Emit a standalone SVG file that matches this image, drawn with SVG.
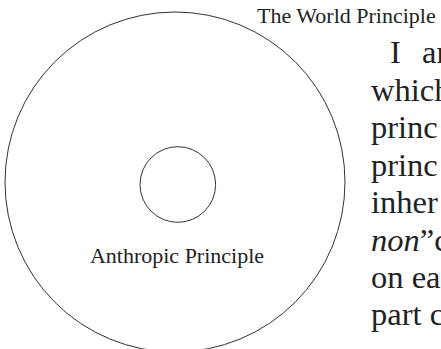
<svg xmlns="http://www.w3.org/2000/svg" width="441" height="349" viewBox="0 0 441 349">
<style>
.ring{fill:none;stroke:#333;stroke-width:1}
.lbl{font-family:"Liberation Serif","Times New Roman",serif;font-size:22px;fill:#222}
.body{font-family:"Liberation Serif","Times New Roman",serif;font-size:32.5px;fill:#222}
</style>
<rect width="441" height="349" fill="#fff"/>
<g id="world-principle">
<circle class="ring" cx="175" cy="182" r="170"/>
<text class="lbl" x="257" y="22.5">The World Principle</text>
</g>
<g id="anthropic-principle">
<circle class="ring" cx="177.8" cy="184.5" r="37.8"/>
<text class="lbl" x="177" y="262.5" text-anchor="middle">Anthropic Principle</text>
</g>
<g id="connectors"/>
<g id="paragraph" class="body">
<text><tspan x="390" y="63">I</tspan><tspan x="422" y="63">ar</tspan></text>
<text x="371" y="100.5">which</text>
<text x="371" y="138">princ</text>
<text x="371" y="175.5">princ</text>
<text x="371" y="213">inher</text>
<text x="371" y="250.5"><tspan font-style="italic">non</tspan>”c</text>
<text x="371" y="288">on ea</text>
<text x="371" y="325">part c</text>
</g>
</svg>
